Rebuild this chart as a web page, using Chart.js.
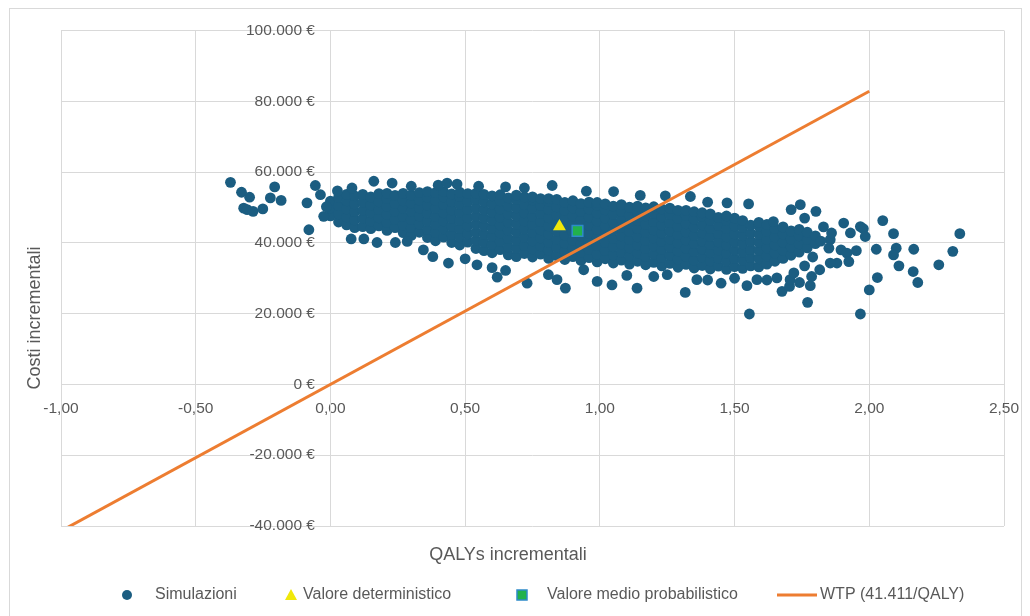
<!DOCTYPE html>
<html>
<head>
<meta charset="utf-8">
<script src="https://cdn.jsdelivr.net/npm/chart.js@4/dist/chart.umd.min.js"></script>
<style>
  html, body { margin: 0; padding: 0; background: #fff; }
  #myChart { display: block; width: 1030px; height: 616px; }
</style>
</head>
<body>
<canvas id="myChart" width="1030" height="616"></canvas>
<script>
// dense part of the cloud: each row = [QALY, costs in k€ ...]
const nuvolaColonne = [
  [0.00, 47.6, 49.8, 51.8],
  [0.03, 45.9, 48.2, 50.5, 52.8],
  [0.06, 45.1, 47.3, 49.6, 51.9, 53.7],
  [0.09, 44.3, 46.5, 48.8, 51.0, 53.3],
  [0.12, 44.6, 46.9, 49.2, 51.5, 53.7],
  [0.15, 44.0, 46.2, 48.5, 50.7, 53.0],
  [0.18, 44.8, 47.1, 49.4, 51.6, 53.9],
  [0.21, 43.5, 45.7, 48.0, 50.3, 52.5, 54.0],
  [0.24, 44.3, 46.6, 48.9, 51.1, 53.4],
  [0.27, 42.9, 45.1, 47.4, 49.7, 51.9, 54.0],
  [0.30, 42.1, 44.3, 46.6, 48.9, 51.2, 53.5],
  [0.33, 43.0, 45.3, 47.6, 49.9, 52.1, 54.2],
  [0.36, 41.5, 43.8, 46.1, 48.4, 50.7, 52.9, 54.5],
  [0.39, 40.6, 42.9, 45.2, 47.5, 49.8, 52.0, 54.2],
  [0.42, 41.6, 43.9, 46.2, 48.5, 50.8, 53.0, 54.5],
  [0.45, 40.1, 42.4, 44.7, 47.0, 49.3, 51.6, 53.8],
  [0.48, 39.4, 41.7, 44.0, 46.3, 48.6, 50.9, 53.1, 54.3],
  [0.51, 40.2, 42.5, 44.8, 47.1, 49.4, 51.7, 53.9],
  [0.54, 38.4, 40.7, 43.0, 45.3, 47.6, 49.9, 52.2, 54.0],
  [0.57, 37.8, 40.1, 42.4, 44.7, 47.0, 49.3, 51.6, 53.7],
  [0.60, 37.2, 39.5, 41.8, 44.1, 46.4, 48.7, 51.0, 53.3],
  [0.63, 38.1, 40.4, 42.7, 45.0, 47.3, 49.6, 51.9, 53.6],
  [0.66, 36.6, 38.9, 41.2, 43.5, 45.8, 48.1, 50.4, 52.7],
  [0.69, 36.1, 38.4, 40.7, 43.0, 45.3, 47.6, 49.9, 52.2, 53.5],
  [0.72, 37.0, 39.3, 41.6, 43.9, 46.2, 48.5, 50.8, 53.0],
  [0.75, 36.0, 38.3, 40.6, 42.9, 45.2, 47.5, 49.8, 52.1, 53.0],
  [0.78, 36.8, 39.1, 41.4, 43.7, 46.0, 48.3, 50.6, 52.5],
  [0.81, 35.6, 37.9, 40.2, 42.5, 44.8, 47.1, 49.4, 51.7, 52.5],
  [0.84, 36.4, 38.7, 41.0, 43.3, 45.6, 47.9, 50.2, 52.3],
  [0.87, 35.3, 37.6, 39.9, 42.2, 44.5, 46.8, 49.1, 51.4],
  [0.90, 36.1, 38.4, 40.7, 43.0, 45.3, 47.6, 49.9, 51.9],
  [0.93, 35.0, 37.3, 39.6, 41.9, 44.2, 46.5, 48.8, 51.1],
  [0.96, 35.8, 38.1, 40.4, 42.7, 45.0, 47.3, 49.6, 51.5],
  [0.99, 34.6, 36.9, 39.2, 41.5, 43.8, 46.1, 48.4, 50.7, 51.4],
  [1.02, 35.5, 37.8, 40.1, 42.4, 44.7, 47.0, 49.3, 51.0],
  [1.05, 34.3, 36.6, 38.9, 41.2, 43.5, 45.8, 48.1, 50.4],
  [1.08, 35.1, 37.4, 39.7, 42.0, 44.3, 46.6, 48.9, 50.8],
  [1.11, 34.0, 36.3, 38.6, 40.9, 43.2, 45.5, 47.8, 50.1],
  [1.14, 34.8, 37.1, 39.4, 41.7, 44.0, 46.3, 48.6, 50.4],
  [1.17, 33.8, 36.1, 38.4, 40.7, 43.0, 45.3, 47.6, 49.9],
  [1.20, 34.5, 36.8, 39.1, 41.4, 43.7, 46.0, 48.3, 50.2],
  [1.23, 33.5, 35.8, 38.1, 40.4, 42.7, 45.0, 47.3, 49.6],
  [1.26, 34.2, 36.5, 38.8, 41.1, 43.4, 45.7, 48.0, 49.8],
  [1.29, 33.1, 35.4, 37.7, 40.0, 42.3, 44.6, 46.9, 49.2],
  [1.32, 33.9, 36.2, 38.5, 40.8, 43.1, 45.4, 47.7, 49.2],
  [1.35, 32.9, 35.2, 37.5, 39.8, 42.1, 44.4, 46.7, 48.8],
  [1.38, 33.6, 35.9, 38.2, 40.5, 42.8, 45.1, 47.4, 48.5],
  [1.41, 32.6, 34.9, 37.2, 39.5, 41.8, 44.1, 46.4, 48.2],
  [1.44, 33.4, 35.7, 38.0, 40.3, 42.6, 44.9, 47.2],
  [1.47, 32.5, 34.8, 37.1, 39.4, 41.7, 44.0, 46.3, 47.6],
  [1.50, 33.3, 35.6, 37.9, 40.2, 42.5, 44.8, 47.0],
  [1.53, 32.8, 35.1, 37.4, 39.7, 42.0, 44.3, 46.3],
  [1.56, 33.5, 35.8, 38.1, 40.4, 42.7, 45.0],
  [1.59, 33.2, 35.5, 37.8, 40.1, 42.4, 44.7, 45.8],
  [1.62, 34.0, 36.3, 38.6, 40.9, 43.2, 45.2],
  [1.65, 34.8, 37.1, 39.4, 41.7, 44.0],
  [1.68, 35.6, 37.9, 40.2, 42.5, 44.5],
  [1.71, 36.5, 38.8, 41.1, 43.4],
  [1.74, 37.4, 39.7, 42.0, 43.8],
  [1.77, 38.6, 40.9, 43.0],
  [1.80, 39.8, 42.0]
];

// scattered simulations round the cloud: [QALY, k€]
const puntiSparsi = [
  [-0.371, 57.1], [-0.330, 54.3], [-0.300, 52.9], [-0.322, 49.8], [-0.309, 49.4], [-0.287, 48.9],
  [-0.251, 49.6], [-0.223, 52.7], [-0.207, 55.8], [-0.183, 52.0], [-0.087, 51.3], [-0.080, 43.7],
  [-0.056, 56.2], [-0.037, 53.6], [-0.025, 47.5], [-0.015, 50.2], [0.026, 54.7], [0.08, 55.5],
  [0.161, 57.4], [0.229, 56.9], [0.30, 56.0], [0.40, 56.3], [0.433, 56.9], [0.47, 56.6],
  [0.55, 56.0], [0.65, 55.8], [0.72, 55.5], [0.823, 56.2], [0.95, 54.6], [1.051, 54.5],
  [1.15, 53.4], [1.243, 53.3], [1.336, 53.1], [1.40, 51.5], [1.472, 51.3], [1.552, 51.0],
  [0.077, 41.1], [0.124, 41.1], [0.173, 40.1], [0.241, 40.1], [0.285, 40.4], [0.345, 38.0],
  [0.38, 36.1], [0.438, 34.3], [0.50, 35.5], [0.544, 33.8], [0.60, 33.0], [0.65, 32.2],
  [0.619, 30.3], [0.73, 28.6], [0.809, 31.0], [0.841, 29.6], [0.872, 27.2], [0.94, 32.4],
  [0.99, 29.1], [1.045, 28.1], [1.10, 30.8], [1.138, 27.2], [1.20, 30.5], [1.25, 31.0],
  [1.317, 26.0], [1.36, 29.6], [1.40, 29.5], [1.45, 28.6], [1.50, 30.0], [1.546, 27.9],
  [1.583, 29.6], [1.555, 19.9], [1.62, 29.5], [1.657, 30.1], [1.676, 26.3], [1.704, 27.7],
  [1.706, 29.6], [1.741, 28.8], [1.781, 27.9], [1.786, 30.5], [1.771, 23.2], [1.816, 32.4],
  [1.644, 46.0], [1.71, 49.4], [1.744, 50.8], [1.802, 48.9], [1.76, 47.0], [1.83, 44.5],
  [1.855, 40.9], [1.86, 42.8], [1.82, 40.5], [1.85, 38.5], [1.88, 34.3], [1.855, 34.3],
  [1.895, 38.0], [1.917, 37.1], [1.905, 45.6], [1.93, 42.8], [1.924, 34.7], [1.952, 37.8],
  [1.967, 44.6], [1.978, 44.0], [1.985, 41.8], [2.026, 38.2], [2.03, 30.2], [2.0, 26.7],
  [1.967, 19.9], [2.05, 46.3], [2.09, 42.6], [2.1, 38.5], [2.09, 36.6], [2.11, 33.5],
  [2.165, 38.2], [2.163, 31.9], [2.18, 28.8], [2.258, 33.8], [2.31, 37.6], [2.336, 42.6],
  [1.79, 36.0], [1.76, 33.5], [1.72, 31.5]
];

const deterministicoX = [0.85];
const deterministicoY = [44600];
const probabilisticoX = [0.917];
const probabilisticoY = [43400];
const wtpX = [-1, 2];
const wtpY = [-41411, 82822];

const etichette = ['Simulazioni', 'Valore deterministico', 'Valore medio probabilistico', 'WTP (41.411/QALY)'];

// build the scatter points
var simulazioni = [];
nuvolaColonne.forEach(function(riga) {
    for (var i = 1; i < riga.length; i++) {
        simulazioni.push({ x: riga[0], y: riga[i] * 1000 });
    }
});
puntiSparsi.forEach(function(p) {
    simulazioni.push({ x: p[0], y: p[1] * 1000 });
});

function coppie(xs, ys) {
    return xs.map(function(x, i) { return { x: x, y: ys[i] }; });
}

function formatoEuro(v) {
    var s = Math.abs(v).toFixed(0).replace(/\B(?=(\d{3})+(?!\d))/g, '.');
    return (v < 0 ? '-' : '') + s + ' €';
}

var grigio = '#595959';
var griglia = '#d9d9d9';
var blu = '#1b5d81';
var arancio = '#ed7d31';

// frame, axis titles and legend drawn by hand
var extra = {
    id: 'extra',
    beforeDraw: function(chart) {
        var ctx = chart.ctx;
        ctx.save();
        ctx.fillStyle = '#fff';
        ctx.fillRect(0, 0, chart.width, chart.height);
        ctx.strokeStyle = griglia;
        ctx.lineWidth = 1;
        ctx.strokeRect(9.5, 8.5, 1012, 640);
        ctx.restore();
    },
    afterDraw: function(chart) {
        var ctx = chart.ctx;
        ctx.save();
        ctx.fillStyle = grigio;
        ctx.font = '18px "Liberation Sans", Arial, sans-serif';
        ctx.textAlign = 'center';
        ctx.textBaseline = 'middle';
        ctx.fillText('QALYs incrementali', 508, 555);
        ctx.save();
        ctx.translate(35, 318);
        ctx.rotate(-Math.PI / 2);
        ctx.fillText('Costi incrementali', 0, 0);
        ctx.restore();

        // legend
        var ly = 595;
        ctx.font = '16px "Liberation Sans", Arial, sans-serif';
        ctx.textAlign = 'left';
        ctx.fillStyle = grigio;
        ctx.fillText(etichette[0], 155, ly);
        ctx.fillText(etichette[1], 303, ly);
        ctx.fillText(etichette[2], 547, ly);
        ctx.fillText(etichette[3], 820, ly);

        ctx.fillStyle = blu;
        ctx.beginPath();
        ctx.arc(127, ly, 5, 0, Math.PI * 2);
        ctx.fill();

        ctx.fillStyle = '#f0e80a';
        ctx.beginPath();
        ctx.moveTo(291, ly - 6);
        ctx.lineTo(297, ly + 5);
        ctx.lineTo(285, ly + 5);
        ctx.closePath();
        ctx.fill();

        ctx.fillStyle = '#22b14c';
        ctx.strokeStyle = '#2e8bc9';
        ctx.lineWidth = 1.5;
        ctx.fillRect(517, ly - 5, 10, 10);
        ctx.strokeRect(517, ly - 5, 10, 10);

        ctx.strokeStyle = arancio;
        ctx.lineWidth = 3;
        ctx.beginPath();
        ctx.moveTo(777, ly);
        ctx.lineTo(817, ly);
        ctx.stroke();
        ctx.restore();
    }
};

var ctx = document.getElementById('myChart').getContext('2d');
var chart = new Chart(ctx, {
    type: 'scatter',
    data: {
        datasets: [{
            label: etichette[1],
            data: coppie(deterministicoX, deterministicoY),
            pointStyle: 'triangle',
            pointRadius: 7.5,
            backgroundColor: '#f0e80a',
            borderColor: '#f0e80a',
            borderWidth: 0,
            order: 1
        }, {
            label: etichette[2],
            data: coppie(probabilisticoX, probabilisticoY),
            pointStyle: 'rect',
            pointRadius: 7.5,
            backgroundColor: '#22b14c',
            borderColor: '#2e8bc9',
            borderWidth: 1.5,
            order: 2
        }, {
            type: 'line',
            label: etichette[3],
            data: coppie(wtpX, wtpY),
            borderColor: arancio,
            borderWidth: 3,
            pointRadius: 0,
            fill: false,
            order: 3
        }, {
            label: etichette[0],
            data: simulazioni,
            pointStyle: 'circle',
            pointRadius: 5.4,
            backgroundColor: blu,
            borderColor: blu,
            borderWidth: 0,
            order: 4
        }]
    },
    options: {
        responsive: false,
        maintainAspectRatio: false,
        animation: false,
        layout: { padding: { left: 61, right: 26, top: 30.5, bottom: 90 } },
        plugins: {
            legend: { display: false },
            tooltip: { enabled: false }
        },
        scales: {
            x: {
                type: 'linear',
                position: { y: 0 },
                min: -1,
                max: 2.5,
                // labels at the ends may overflow, the padding already leaves room
                afterFit: function(scale) {
                    scale.paddingLeft = 0;
                    scale.paddingRight = 0;
                },
                ticks: {
                    stepSize: 0.5,
                    padding: 15,
                    color: grigio,
                    font: { family: '"Liberation Sans", Arial, sans-serif', size: 15.5 },
                    callback: function(v) { return v.toFixed(2).replace('.', ','); }
                },
                grid: { color: griglia, drawTicks: false },
                border: { color: griglia }
            },
            y: {
                type: 'linear',
                position: { x: 0 },
                min: -40000,
                max: 100000,
                afterFit: function(scale) {
                    scale.paddingTop = 0;
                    scale.paddingBottom = 0;
                },
                ticks: {
                    stepSize: 20000,
                    color: grigio,
                    font: { family: '"Liberation Sans", Arial, sans-serif', size: 15.5 },
                    // the positioned axis ignores padding, en spaces keep the gap
                    callback: function(v) { return formatoEuro(v) + '\u2002\u2002'; }
                },
                grid: { color: griglia, drawTicks: false },
                border: { color: griglia }
            }
        }
    },
    plugins: [extra]
});
</script>
</body>
</html>
